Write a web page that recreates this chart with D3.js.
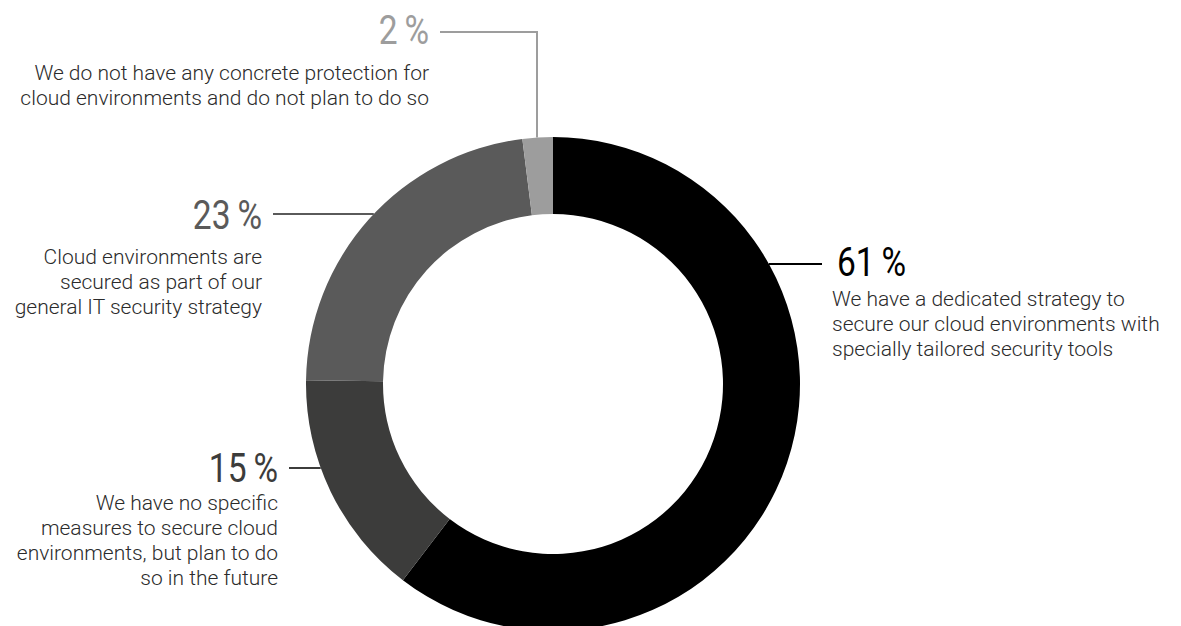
<!DOCTYPE html>
<html>
<head>
<meta charset="utf-8">
<script src="https://cdn.jsdelivr.net/npm/d3@7"></script>
<style>
  body { margin: 0; background: #fff; }
  svg { display: block; }
  .pct { font-family: Roboto, "Noto Sans", sans-serif; font-weight: 400; font-size: 40px; }
  .desc { font-family: Roboto, "Noto Sans", sans-serif; font-weight: 300; font-size: 21px; fill: #2b2b2b; }
</style>
</head>
<body>
<svg width="1181" height="626"></svg>
<script>
// answers, in pie order (clockwise from 12 o'clock)
const categories = ["dedicated", "none_planned", "general_it", "none"];
const values = [61, 15, 23, 2];
const colors = ["#000000", "#3c3c3b", "#5a5a5a", "#9d9d9d"];
const descriptions = [
  ["We have a dedicated strategy to", "secure our cloud environments with", "specially tailored security tools"],
  ["We have no specific", "measures to secure cloud", "environments, but plan to do", "so in the future"],
  ["Cloud environments are", "secured as part of our", "general IT security strategy"],
  ["We do not have any concrete protection for", "cloud environments and do not plan to do so"]
];

const width = 1181, height = 626;
const cx = 553, cy = 384;
const outerR = 247, innerR = 170;

const svg = d3.select("svg");
const g = svg.append("g").attr("transform", `translate(${cx},${cy})`);

const pie = d3.pie().sort(null).value(d => d);
const arc = d3.arc().innerRadius(innerR).outerRadius(outerR);
const arcs = pie(values);

g.selectAll("path.slice")
  .data(arcs)
  .enter()
  .append("path")
  .attr("class", "slice")
  .attr("d", arc)
  .attr("fill", (d, i) => colors[i]);

// label layout: side, y of leader line, where the text starts/ends
// (hand placed to match the original, leader hits the ring at that y)
const labels = [
  { side: "right", lineY: 264, textX: 822, pctY: 276, descY: 306 },
  { side: "left", lineY: 468, textX: 289, pctY: 482, descY: 510 },
  { side: "left", lineY: 214, textX: 273, pctY: 229, descY: 264 },
  { side: "top", lineY: 32, textX: 440, elbowX: 537, pctY: 44, descY: 80 }
];

// point on outer ring at a given y (for right/left), or at given x (for top)
function ringX(y, side) {
  const dy = y - cy;
  const dx = Math.sqrt(outerR * outerR - dy * dy);
  return side === "right" ? cx + dx : cx - dx;
}
function ringY(x) {
  const dx = x - cx;
  return cy - Math.sqrt(outerR * outerR - dx * dx);
}

const lbl = svg.append("g");
const lineH = 25;

labels.forEach((L, i) => {
  const col = colors[i];
  let pts;
  if (L.side === "top") {
    pts = [[L.textX, L.lineY], [L.elbowX, L.lineY], [L.elbowX, ringY(L.elbowX)]];
  } else if (L.side === "right") {
    pts = [[ringX(L.lineY, "right"), L.lineY], [L.textX, L.lineY]];
  } else {
    pts = [[L.textX, L.lineY], [ringX(L.lineY, "left"), L.lineY]];
  }
  lbl.append("path")
    .attr("d", d3.line()(pts))
    .attr("fill", "none")
    .attr("stroke", col)
    .attr("stroke-width", 2);

  const anchor = L.side === "right" ? "start" : "end";
  const tx = L.side === "right" ? L.textX + 15 : L.textX - 11;
  const dx = L.side === "right" ? L.textX + 10 : L.textX - 11;

  lbl.append("text")
    .attr("class", "pct")
    .attr("transform", `translate(${tx},${L.pctY}) scale(0.84,1)`)
    .attr("text-anchor", anchor)
    .attr("fill", col)
    .text(values[i] + "\u2009%");

  const t = lbl.append("text")
    .attr("class", "desc")
    .attr("text-anchor", anchor);
  descriptions[i].forEach((s, k) => {
    t.append("tspan")
      .attr("x", dx)
      .attr("y", L.descY + k * lineH)
      .text(s);
  });
});
</script>
</body>
</html>
